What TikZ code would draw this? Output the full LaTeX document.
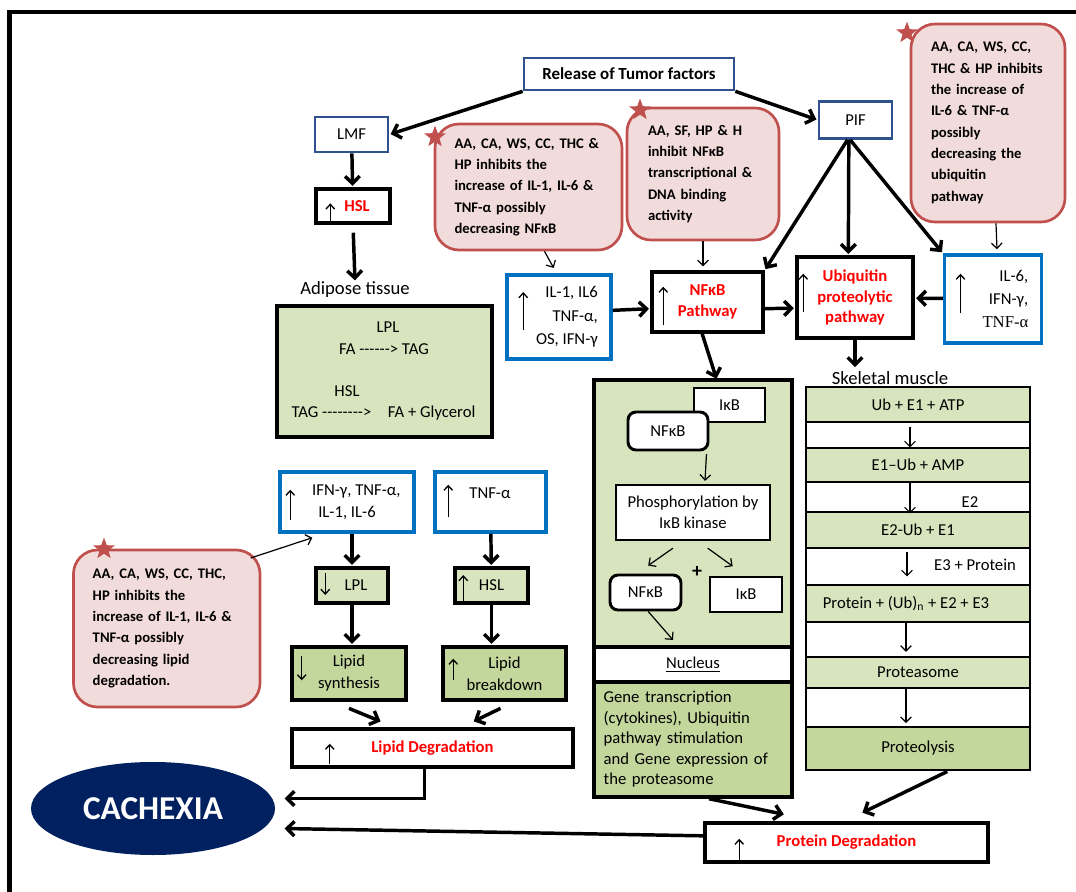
\documentclass[tikz,border=0pt]{standalone}
\usepackage{fontspec}
\setmainfont{Carlito}
\newfontfamily\cambriaish{Liberation Serif}
\usetikzlibrary{arrows.meta,shapes.geometric}

\definecolor{tumorblue}{RGB}{47,82,143}
\definecolor{cytoblue}{RGB}{0,112,192}
\definecolor{noteedge}{RGB}{192,80,77}
\definecolor{notefill}{RGB}{242,220,219}
\definecolor{paleolive}{RGB}{215,228,189}
\definecolor{midolive}{RGB}{195,214,155}
\definecolor{cachexiablue}{RGB}{0,32,96}

\newcommand\hy{\mbox{-}}

\tikzset{
  every node/.style={font=\fontsize{12.5}{16}\selectfont, inner sep=0pt},
  bigarrow/.style={line width=2.6pt, -{Straight Barb[length=5.5pt,width=11pt]}, shorten >=1pt},
  thinarrow/.style={line width=0.9pt, -{Straight Barb[length=4pt,width=8pt]}},
  uparrow/.style={line width=1pt, -{Straight Barb[length=3.5pt,width=6.5pt]}},
  factorbox/.style={draw=tumorblue, line width=2pt, fill=white},
  cytobox/.style={draw=cytoblue, line width=2.6pt, fill=white},
  blackbox/.style={draw=black, line width=2.6pt, fill=white},
  gapblock/.style={draw=black, line width=2.2pt, fill=white},
  paleblock/.style={draw=black, line width=2.2pt, fill=paleolive},
  midblock/.style={draw=black, line width=2.2pt, fill=midolive},
  herbnote/.style={draw=noteedge, line width=2pt, fill=notefill, rounded corners=18pt,
    align=left, font=\fontsize{11}{16}\selectfont\bfseries},
  redstar/.style={star, star points=5, star point ratio=2.4, fill=noteedge, minimum size=17pt},
  redtext/.style={text=red, align=center, font=\fontsize{12.5}{15.5}\selectfont\bfseries},
}

\begin{document}
\begin{tikzpicture}[x=0.75pt,y=-0.75pt]
\useasboundingbox (0,0) rectangle (1076,892);
\draw[line width=3.4pt] (9.5,892) -- (9.5,12) -- (1076,12);

\node[factorbox, minimum width=157.5pt, minimum height=24pt, font=\fontsize{12.7}{14}\selectfont\bfseries] (tumor) at (629,74) {Release of Tumor factors};
\node[factorbox, minimum width=54.75pt, minimum height=26.25pt] (LMF) at (351.5,134.5) {LMF};
\node[factorbox, minimum width=54.75pt, minimum height=27.75pt] (PIF) at (855.5,120) {PIF};
\node[blackbox, minimum width=55.5pt, minimum height=25.5pt] (HSLup) at (353,206) {\hspace{6pt}\textcolor{red}{\bfseries HSL}};
\draw[uparrow] ([xshift=12pt,yshift=1pt]HSLup.south west) -- ++(0,-20);

\node[font=\fontsize{14}{16}\selectfont] (adiposeLabel) at (355,290) {Adipose tissue};
\node[paleblock, line width=2.6pt, minimum width=161.25pt, minimum height=98.25pt] (adipose) at (384.5,371.5) {};
\node (lplA) at (388,327) {LPL};
\node (faA) at (384,349) {FA \hy\hy\hy\hy\hy\hy> TAG};
\node (hslA) at (347,391) {HSL};
\node (tagA) at (383.5,413) {TAG \hy\hy\hy\hy\hy\hy\hy\hy>\quad FA + Glycerol};

\node[herbnote, minimum width=140.25pt, minimum height=94.5pt, text width=111pt] (noteNFkB) at (528.5,187)
  {AA, CA, WS, CC, THC \&\\HP inhibits the\\increase of IL-1, IL-6 \&\\TNF-α possibly\\decreasing NFκB};
\node[redstar] (starNFkB) at (435,137) {};
\node[herbnote, minimum width=114pt, minimum height=99pt, text width=82.5pt] (noteBind) at (703,174)
  {AA, SF, HP \& H\\inhibit NFκB\\transcriptional \&\\DNA binding\\activity};
\node[redstar] (starBind) at (640,110) {};
\node[herbnote, minimum width=115.5pt, minimum height=148.5pt, text width=85.5pt] (noteUbq) at (988,123)
  {AA, CA, WS, CC,\\THC \& HP inhibits\\the increase of\\IL-6 \& TNF-α\\possibly\\decreasing the\\ubiquitin\\pathway};
\node[redstar] (starUbq) at (907,33) {};

\node[cytobox, minimum width=78pt, minimum height=63pt] (ILone) at (559,317) {};
\node[anchor=east, align=right, font=\fontsize{12.5}{17.5}\selectfont] (ILoneText) at ([xshift=-11pt]ILone.east) {IL-1, IL6\\TNF-α,\\OS, IFN-γ};
\draw[uparrow] ([xshift=13.5pt,yshift=23pt]ILone.south west) -- ++(0,-38);

\node[blackbox, redtext, minimum width=83.25pt, minimum height=45pt] (NFkBpath) at (707.5,302) {NFκB\\Pathway};
\draw[uparrow] ([xshift=9.75pt,yshift=6.75pt]NFkBpath.south west) -- ++(0,-38);

\node[blackbox, redtext, minimum width=87pt, minimum height=60.75pt] (ubq) at (855,297.5) {Ubiquitin\\proteolytic\\pathway};
\draw[uparrow] ([xshift=6pt,yshift=21pt]ubq.south west) -- ++(0,-38);

\node[cytobox, minimum width=72.75pt, minimum height=66pt] (ILsix) at (993,299) {};
\node[anchor=east, align=right, font=\fontsize{12.5}{17}\selectfont] (ILsixText) at ([xshift=-11pt]ILsix.east) {IL-6,\\IFN-γ,\\{\cambriaish TNF-α}};
\draw[uparrow] ([xshift=13.3pt,yshift=24pt]ILsix.south west) -- ++(0,-39);

\draw[bigarrow] (tumor.south west) -- (LMF.east);
\draw[bigarrow] (tumor.south east) -- (PIF.west);
\draw (LMF) edge[bigarrow] (HSLup);
\draw[bigarrow, shorten <=6pt] (HSLup.south) -- (adiposeLabel.north);
\draw[bigarrow] ([xshift=-6pt]PIF.south) -- (NFkBpath.north east);
\draw[bigarrow] ([xshift=-5pt]PIF.south) -- ([xshift=-5pt]ubq.north);
\draw[bigarrow] ([xshift=-4pt]PIF.south) -- (ILsix.north west);
\draw[thinarrow] ([xshift=12pt]noteNFkB.south) -- ([xshift=-4pt,yshift=4pt]ILone.north);
\draw[thinarrow] (noteBind.south) -- ([yshift=3pt]noteBind.south |- NFkBpath.north);
\draw[thinarrow] ([xshift=6pt]noteUbq.south) -- ([xshift=3pt,yshift=3pt]ILsix.north);
\draw[bigarrow] ([yshift=5pt]ILone.east) -- ([yshift=-5pt]NFkBpath.west);
\draw[bigarrow] ([yshift=-5pt]NFkBpath.east) -- ([yshift=-8pt]ubq.west);
\draw (ILsix) edge[bigarrow] (ubq);
\draw[bigarrow] ([xshift=-4pt]NFkBpath.south) -- ([xshift=7pt]NFkBpath.south |- 0,380);

\node[paleblock, line width=2.6pt, minimum width=148.5pt, minimum height=200.25pt] (panel) at (693,513.5) {};
\node[gapblock, line width=2.6pt, minimum width=148.5pt, minimum height=26.25pt] (nucleus) at (693,664.5) {\underline{Nucleus}};
\node[midblock, line width=2.6pt, minimum width=148.5pt, minimum height=86.25pt, text width=134pt, align=left,
  font=\fontsize{12.5}{15.4}\selectfont] (gene) at (693,739.5)
  {Gene transcription\\(cytokines), Ubiquitin\\pathway stimulation\\and Gene expression of\\the proteasome};
\node[blackbox, line width=2.2pt, minimum width=53.25pt, minimum height=25.5pt] (IkBtop) at (729.5,405) {IκB};
\node[blackbox, line width=2.2pt, rounded corners=6pt, minimum width=60pt, minimum height=28.5pt] (NFkBtop) at (668,431) {NFκB};
\node[blackbox, line width=2.2pt, minimum width=115.5pt, minimum height=41.25pt, align=center] (phos) at (693,512.5) {Phosphorylation by\\IκB kinase};
\node[blackbox, line width=2.2pt, rounded corners=6pt, minimum width=53.25pt, minimum height=26.25pt] (NFkBfree) at (645.5,592.5) {NFκB};
\node[font=\fontsize{15}{15}\selectfont\bfseries] (plus) at (697,572) {+};
\node[blackbox, line width=2.2pt, minimum width=54pt, minimum height=26.25pt] (IkBfree) at (746,594.5) {IκB};
\draw[thinarrow] ([xshift=-2.25pt,yshift=-2pt]NFkBtop.south east) -- ([xshift=9pt,yshift=2pt]phos.north);
\draw[thinarrow] ([xshift=-15pt,yshift=-5pt]phos.south) -- ([xshift=2pt,yshift=6pt]NFkBfree.north);
\draw[thinarrow] ([xshift=11pt,yshift=-5pt]phos.south) -- ([xshift=-10pt,yshift=7pt]IkBfree.north);
\draw[thinarrow] ([xshift=2pt]NFkBfree.south) -- ([xshift=-15pt,yshift=4pt]nucleus.north);

\node[font=\fontsize{14}{16}\selectfont] (skelLabel) at (890,378) {Skeletal muscle};
\draw[bigarrow] (ubq.south) -- ([yshift=2pt]skelLabel.north -| ubq.south);
\node[paleblock, minimum width=168pt, minimum height=26.25pt] (ubE) at (918,404.5) {Ub + E1 + ATP};
\node[gapblock, minimum width=168pt, minimum height=19.5pt] (gapA) at (918,435) {};
\node[paleblock, minimum width=168pt, minimum height=25.5pt] (eoneUb) at (918,465) {E1–Ub + AMP};
\node[gapblock, minimum width=168pt, minimum height=22.5pt] (gapB) at (918,497) {};
\node[paleblock, minimum width=168pt, minimum height=27pt] (etwoUb) at (918,530) {E2-Ub + E1};
\node[gapblock, minimum width=168pt, minimum height=27.75pt] (gapC) at (918,566.5) {};
\node[paleblock, minimum width=168pt, minimum height=27.75pt] (tagged) at (918,603.5) {\hspace{-18pt}Protein + (Ub)\textsubscript{n} + E2 + E3};
\node[gapblock, minimum width=168pt, minimum height=26.25pt] (gapD) at (918,639.5) {};
\node[paleblock, minimum width=168pt, minimum height=23.25pt] (proteasome) at (918,672.5) {Proteasome};
\node[gapblock, minimum width=168pt, minimum height=29.25pt] (gapE) at (918,707.5) {};
\node[midblock, minimum width=168pt, minimum height=32.25pt] (proteolysis) at (918,748.5) {Proteolysis};
\node (Etwo) at (970,502) {E2};
\node (Ethree) at (975,565) {E3 + Protein};
\draw[thinarrow] ([xshift=-6pt,yshift=-4.5pt]gapA.north) -- ([xshift=-6pt,yshift=1.5pt]gapA.south);
\draw[thinarrow] ([xshift=-6pt,yshift=-2pt]gapB.north) -- ([xshift=-6pt]gapB.south);
\draw[thinarrow] ([xshift=-8.25pt,yshift=-3.75pt]gapC.north) -- ([xshift=-8.25pt,yshift=7.5pt]gapC.south);
\draw[thinarrow] ([xshift=-9pt]gapD.north) -- ([xshift=-9pt,yshift=5pt]gapD.south);
\draw[thinarrow] ([xshift=-9pt]gapE.north) -- ([xshift=-9pt,yshift=4pt]gapE.south);

\node[cytobox, minimum width=100.5pt, minimum height=45pt, align=center, font=\fontsize{12.5}{16.5}\selectfont] (cyto) at (347,502) {\hspace{14pt}IFN-γ, TNF-α,\\IL-1, IL-6};
\draw[uparrow] ([xshift=9pt,yshift=10.5pt]cyto.south west) -- ++(0,-30);
\node[cytobox, minimum width=83.25pt, minimum height=45pt] (TNF) at (490.5,502) {};
\node (TNFtext) at (490,493) {TNF-α};
\draw[uparrow] ([xshift=11.25pt,yshift=12.75pt]TNF.south west) -- ++(0,-32);

\node[paleblock, line width=2.6pt, minimum width=54pt, minimum height=26.25pt] (LPL) at (352,585.5) {\hspace{6pt}LPL};
\draw[uparrow] ([xshift=8.25pt,yshift=-5pt]LPL.north west) -- ++(0,22);
\node[paleblock, line width=2.6pt, minimum width=54.75pt, minimum height=26.25pt] (HSLfat) at (491.5,585.5) {HSL};
\draw[uparrow] ([xshift=7.5pt,yshift=2pt]HSLfat.south west) -- ++(0,-27);
\node[midblock, line width=2.6pt, minimum width=85.5pt, minimum height=39.75pt, align=center, font=\fontsize{12.5}{16.5}\selectfont] (synth) at (349,673.5) {Lipid\\synthesis};
\draw[uparrow] ([xshift=8.6pt,yshift=-8.25pt]synth.north west) -- ++(0,24);
\node[midblock, line width=2.6pt, minimum width=92.25pt, minimum height=39.75pt, align=center, font=\fontsize{12.5}{16.5}\selectfont] (breakdown) at (504.5,673.5) {Lipid\\breakdown};
\draw[uparrow] ([xshift=9pt,yshift=16.5pt]breakdown.south west) -- ++(0,-21);

\node[herbnote, minimum width=139.9pt, minimum height=117.75pt, text width=111pt] (noteLipid) at (166.75,628.5)
  {AA, CA, WS, CC, THC,\\HP inhibits the\\increase of IL-1, IL-6 \&\\TNF-α possibly\\decreasing lipid\\degradation.};
\node[redstar] (starLipid) at (104,549) {};

\draw[bigarrow] (LPL.north |- cyto.south) -- (LPL.north);
\draw (TNF) edge[bigarrow] (HSLfat);
\draw[bigarrow] (LPL.south) -- (LPL.south |- synth.north);
\draw[bigarrow] (HSLfat.south) -- (HSLfat.south |- breakdown.north);
\draw[thinarrow] ([xshift=-8pt,yshift=-7pt]noteLipid.north east) -- ([xshift=-26pt,yshift=-3pt]cyto.south);

\node[blackbox, redtext, minimum width=210.75pt, minimum height=28.5pt] (lipdeg) at (432.5,748) {Lipid Degradation};
\draw[uparrow] ([xshift=29.6pt,yshift=3.75pt]lipdeg.south west) -- ++(0,-20);
\draw[bigarrow] ([yshift=-5pt]synth.south) -- ([xshift=-38pt,yshift=4pt]lipdeg.north);
\draw[bigarrow] ([xshift=-3pt,yshift=-5pt]breakdown.south) -- ([xshift=30pt,yshift=4pt]lipdeg.north);

\node[ellipse, fill=cachexiablue, minimum width=183pt, minimum height=69.75pt, text=white,
  font=\fontsize{25}{25}\selectfont\bfseries] (cachexia) at (153,808.5) {CACHEXIA};
\node[blackbox, redtext, minimum width=212.25pt, minimum height=29.25pt] (protdeg) at (846.5,842.5) {Protein Degradation};
\draw[uparrow] ([xshift=27pt,yshift=1.5pt]protdeg.south west) -- ++(0,-23);

\draw[bigarrow] ([xshift=-6pt]lipdeg.south) |- ([xshift=6pt,yshift=7.5pt]cachexia.east);
\draw[bigarrow] ([yshift=5pt]protdeg.west) -- ([xshift=6pt,yshift=-15pt]cachexia.east);
\draw[bigarrow] ([xshift=12pt]gene.south) -- ([xshift=-46pt,yshift=5pt]protdeg.north);
\draw[bigarrow] ([xshift=22pt]proteolysis.south) -- ([xshift=11pt,yshift=6pt]protdeg.north);
\end{tikzpicture}
\end{document}
